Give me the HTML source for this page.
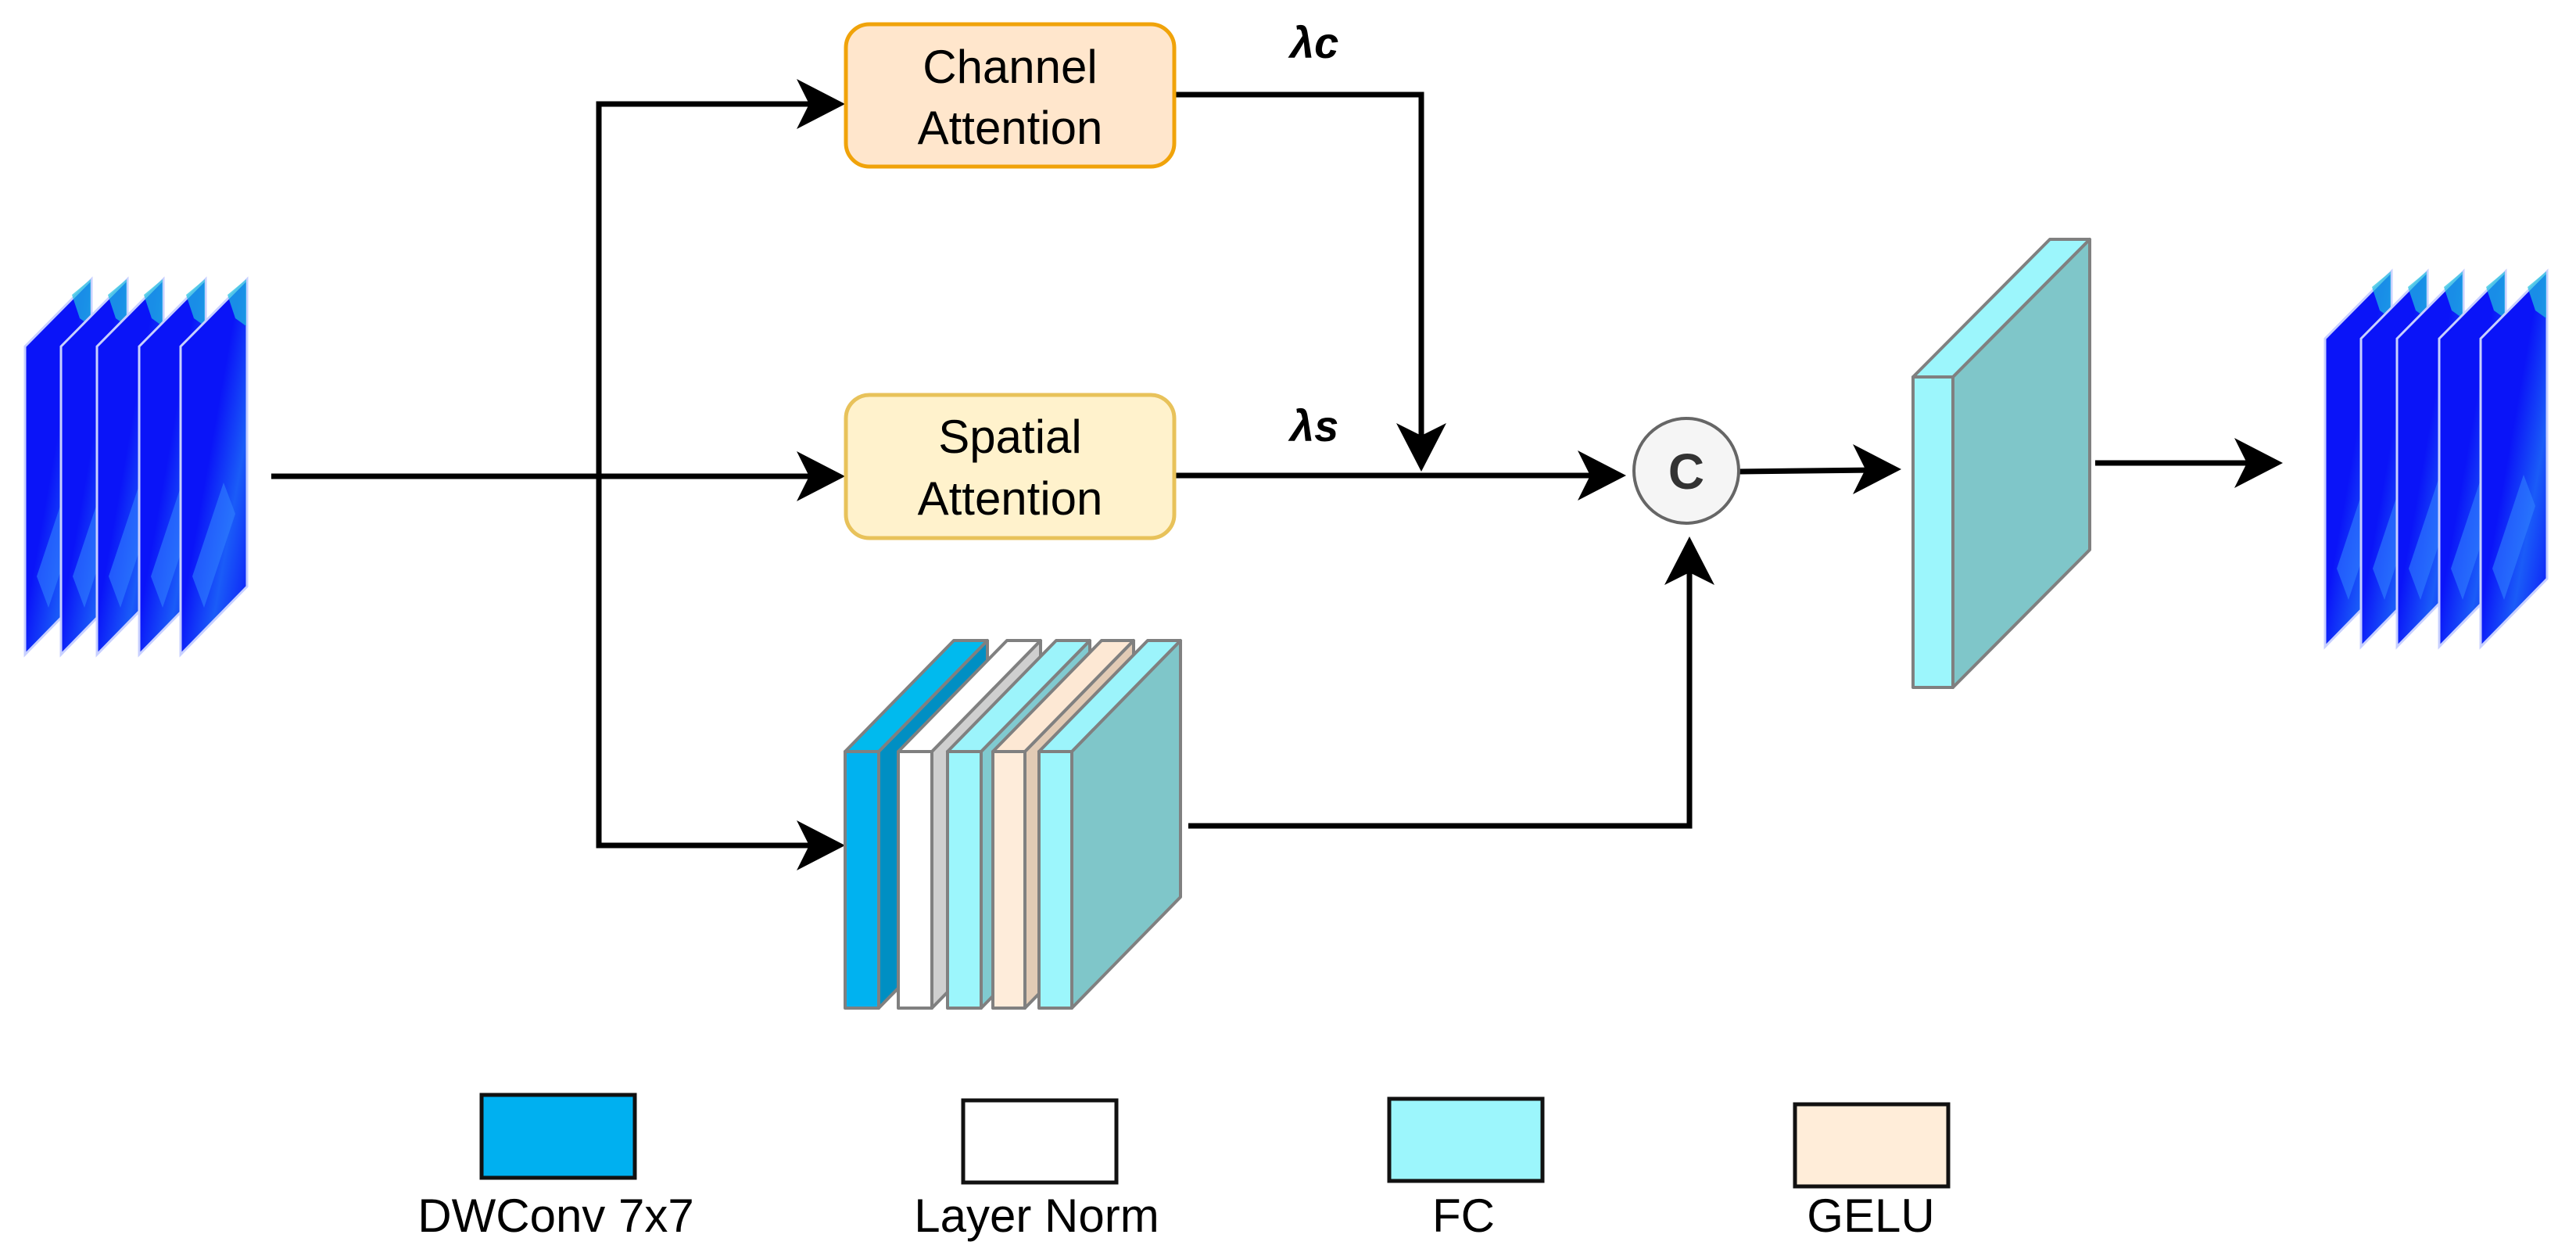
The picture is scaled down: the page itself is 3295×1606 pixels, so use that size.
<!DOCTYPE html>
<html><head><meta charset="utf-8"><style>
html,body{margin:0;padding:0;background:#fff;}
svg{display:block;}
text{font-family:"Liberation Sans",sans-serif;}
</style></head><body>
<svg width="3295" height="1606" viewBox="0 0 3295 1606" xmlns="http://www.w3.org/2000/svg">
<defs>
<linearGradient id="blob" x1="0" y1="0" x2="1" y2="1">
<stop offset="0" stop-color="#0a14f8"/><stop offset="0.45" stop-color="#0a14f8"/><stop offset="0.7" stop-color="#1a5cf8"/><stop offset="1" stop-color="#0a14f8"/>
</linearGradient>
<g id="slice">
<polygon points="0,86 85,0 85,393 0,480" fill="url(#blob)" stroke="#c8d0ff" stroke-width="3"/>
<polygon points="60,20 84,0 84,60 70,50" fill="#20c0e0" opacity="0.7"/>
<polygon points="15,380 55,260 70,300 30,420" fill="#3080ff" opacity="0.6"/>
</g>
<g id="ah"><polygon points="0,0 -62,-32 -46,0 -62,32" fill="#000"/></g>
</defs>

<use href="#slice" x="32" y="357"/>
<use href="#slice" x="78" y="357"/>
<use href="#slice" x="124" y="357"/>
<use href="#slice" x="178" y="357"/>
<use href="#slice" x="231" y="357"/>
<use href="#slice" x="2974" y="347"/>
<use href="#slice" x="3020" y="347"/>
<use href="#slice" x="3066" y="347"/>
<use href="#slice" x="3120" y="347"/>
<use href="#slice" x="3173" y="347"/>

<g stroke="#000" stroke-width="7" fill="none">
<line x1="347" y1="609" x2="1040" y2="609"/>
<polyline points="1040,133 766,133 766,1081 1040,1081"/>
<polyline points="1503,121 1818,121 1818,570"/>
<line x1="1503" y1="608" x2="2050" y2="608"/>
<line x1="2225" y1="603" x2="2400" y2="601"/>
<polyline points="1520,1056 2161,1056 2161,720"/>
<line x1="2680" y1="592" x2="2890" y2="592"/>
</g>
<use href="#ah" transform="translate(1081,133)"/>
<use href="#ah" transform="translate(1081,609)"/>
<use href="#ah" transform="translate(1081,1081)"/>
<use href="#ah" transform="translate(1818,603) rotate(90)"/>
<use href="#ah" transform="translate(2080,608)"/>
<use href="#ah" transform="translate(2161,686) rotate(-90)"/>
<use href="#ah" transform="translate(2432,600)"/>
<use href="#ah" transform="translate(2920,592)"/>

<rect x="1082" y="31" width="420" height="182" rx="30" fill="#ffe6cc" stroke="#f0a30a" stroke-width="5"/>
<text x="1292" y="106" font-size="60" text-anchor="middle">Channel</text>
<text x="1292" y="184" font-size="60" text-anchor="middle">Attention</text>
<rect x="1082" y="505" width="420" height="183" rx="30" fill="#fff2cc" stroke="#e8c25a" stroke-width="5"/>
<text x="1292" y="579" font-size="60" text-anchor="middle">Spatial</text>
<text x="1292" y="658" font-size="60" text-anchor="middle">Attention</text>
<text x="1650" y="74" font-size="56" font-style="italic" font-weight="bold">λc</text>
<text x="1650" y="564" font-size="56" font-style="italic" font-weight="bold">λs</text>

<circle cx="2157" cy="602" r="67" fill="#f5f5f5" stroke="#666" stroke-width="4"/>
<text x="2157" y="625" font-size="64" font-weight="bold" text-anchor="middle" fill="#333">C</text>

<g stroke="#808080" stroke-width="4" stroke-linejoin="round">
<polygon points="1124,961 1263,819 1263,1147 1124,1289" fill="#008fc3"/>
<polygon points="1081,961 1124,961 1263,819 1220,819" fill="#00baee"/>
<rect x="1081" y="961" width="43" height="328" fill="#00b2f0"/>
<polygon points="1192,961 1331,819 1331,1147 1192,1289" fill="#cfcfcf"/>
<polygon points="1149,961 1192,961 1331,819 1288,819" fill="#ffffff"/>
<rect x="1149" y="961" width="43" height="328" fill="#ffffff"/>
<polygon points="1255,961 1394,819 1394,1147 1255,1289" fill="#80cad0"/>
<polygon points="1212,961 1255,961 1394,819 1351,819" fill="#9cf4fb"/>
<rect x="1212" y="961" width="43" height="328" fill="#9cf6fc"/>
<polygon points="1311,961 1450,819 1450,1147 1311,1289" fill="#e2cbb5"/>
<polygon points="1270,961 1311,961 1450,819 1409,819" fill="#fde8d4"/>
<rect x="1270" y="961" width="41" height="328" fill="#feecda"/>
<polygon points="1371,961 1510,819 1510,1147 1371,1289" fill="#7fc6c9"/>
<polygon points="1329,961 1371,961 1510,819 1468,819" fill="#9cf4fb"/>
<rect x="1329" y="961" width="42" height="328" fill="#9cf6fc"/>
</g>

<g stroke="#808080" stroke-width="4" stroke-linejoin="round">
<polygon points="2498,482 2673,306 2673,703 2498,879" fill="#7fc6c9"/>
<polygon points="2447,482 2498,482 2673,306 2622,306" fill="#9cf6fc"/>
<rect x="2447" y="482" width="51" height="397" fill="#9cf6fc"/>
</g>

<rect x="616" y="1400" width="196" height="106" fill="#00b0f0" stroke="#111" stroke-width="5"/>
<text x="711" y="1575" font-size="60" text-anchor="middle">DWConv 7x7</text>
<rect x="1232" y="1407" width="196" height="105" fill="#fff" stroke="#111" stroke-width="5"/>
<text x="1326" y="1575" font-size="60" text-anchor="middle">Layer Norm</text>
<rect x="1777" y="1405" width="196" height="105" fill="#9cf6fc" stroke="#111" stroke-width="5"/>
<text x="1872" y="1575" font-size="60" text-anchor="middle">FC</text>
<rect x="2296" y="1412" width="196" height="105" fill="#ffedd9" stroke="#111" stroke-width="5"/>
<text x="2393" y="1575" font-size="60" text-anchor="middle">GELU</text>
</svg>
</body></html>
